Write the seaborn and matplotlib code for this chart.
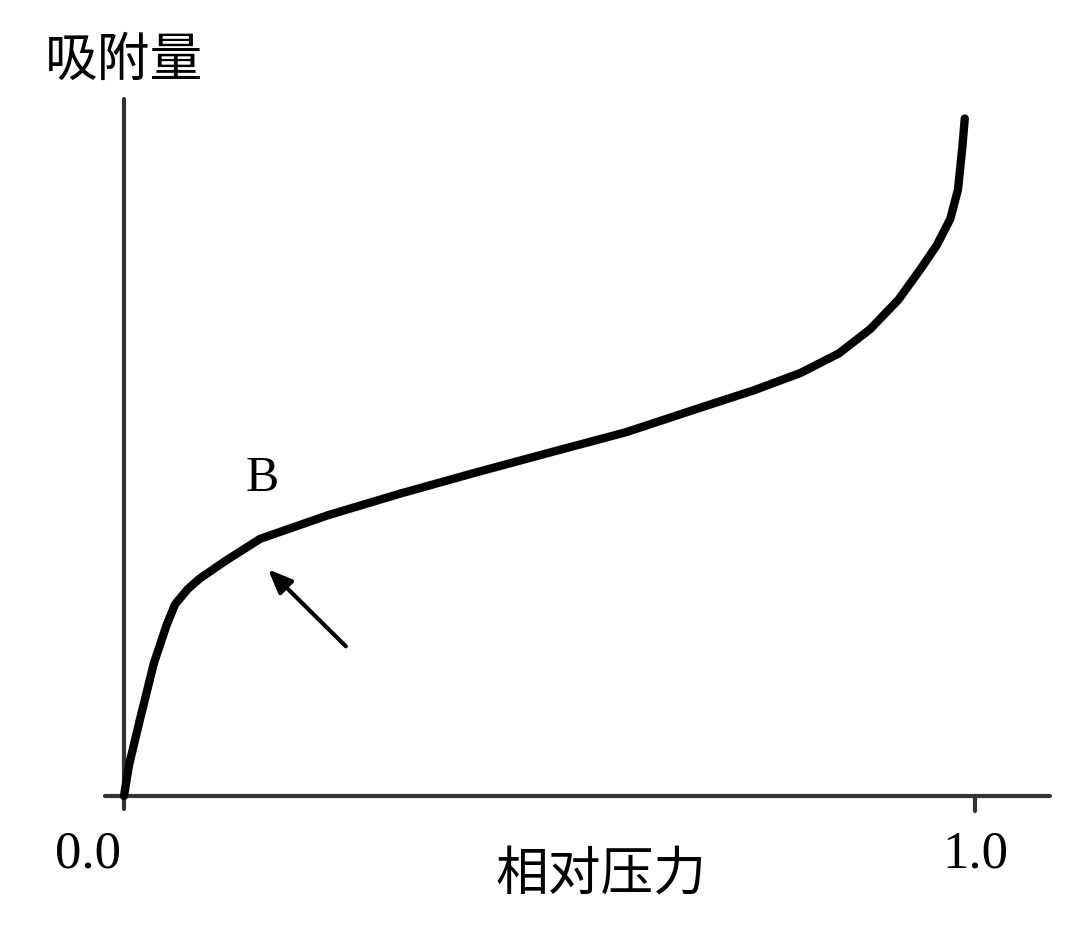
import matplotlib
matplotlib.use("Agg")
import matplotlib.pyplot as plt
import seaborn as sns
import pandas as pd

sns.set_theme(style="white")
plt.rcParams['font.family'] = ['Noto Sans CJK SC', 'DejaVu Sans']
plt.rcParams['text.color'] = 'black'

pressure = [0.0, 0.006, 0.0188, 0.035, 0.050, 0.060, 0.075, 0.089, 0.120, 0.160, 0.240, 0.325,
            0.410, 0.501, 0.590, 0.677, 0.740, 0.795, 0.840, 0.877, 0.910, 0.936, 0.955,
            0.971, 0.980, 0.985, 0.988]
adsorption = [0.0, 0.045, 0.110, 0.190, 0.245, 0.275, 0.297, 0.312, 0.338, 0.369, 0.403, 0.434,
              0.463, 0.493, 0.522, 0.557, 0.582, 0.607, 0.635, 0.670, 0.712, 0.756, 0.790,
              0.828, 0.870, 0.929, 0.972]
df = pd.DataFrame({"p": pressure, "a": adsorption})

fig = plt.figure(figsize=(10.8, 9.53), dpi=100)
ax = fig.add_axes([0, 0, 1, 1])
ax.set_xlim(-0.1457, 1.1234)
ax.set_ylim(-0.2238, 1.1435)
ax.axis("off")

ax.plot([-0.022, 1.088], [0, 0], color="#333333", lw=3)
ax.plot([0, 0], [-0.019, 1.0], color="#333333", lw=3)
ax.plot([1.0, 1.0], [0, -0.022], color="#333333", lw=3)

sns.lineplot(data=df, x="p", y="a", ax=ax, color="black", lw=6, sort=False,
             solid_joinstyle="round", solid_capstyle="round")

ax.annotate("", xy=(0.167, 0.328), xytext=(0.263, 0.212),
            arrowprops=dict(arrowstyle="-|>,head_length=1.2,head_width=0.5", color="black", lw=3))

serif = ["Liberation Serif", "DejaVu Serif"]
ax.text(0.163, 0.456, "B", fontsize=36, family=serif, ha="center", va="center", color="black")
ax.text(-0.042, -0.083, "0.0", fontsize=38, family=serif, ha="center", va="center", color="black")
ax.text(1.0, -0.083, "1.0", fontsize=38, family=serif, ha="center", va="center", color="black")
ax.text(0.561, -0.112, "相对压力", fontsize=38, ha="center", va="center", color="black")
ax.text(-0.0, 1.057, "吸附量", fontsize=38, ha="center", va="center", color="black")

fig.savefig("out.png", dpi=100, facecolor="white")
